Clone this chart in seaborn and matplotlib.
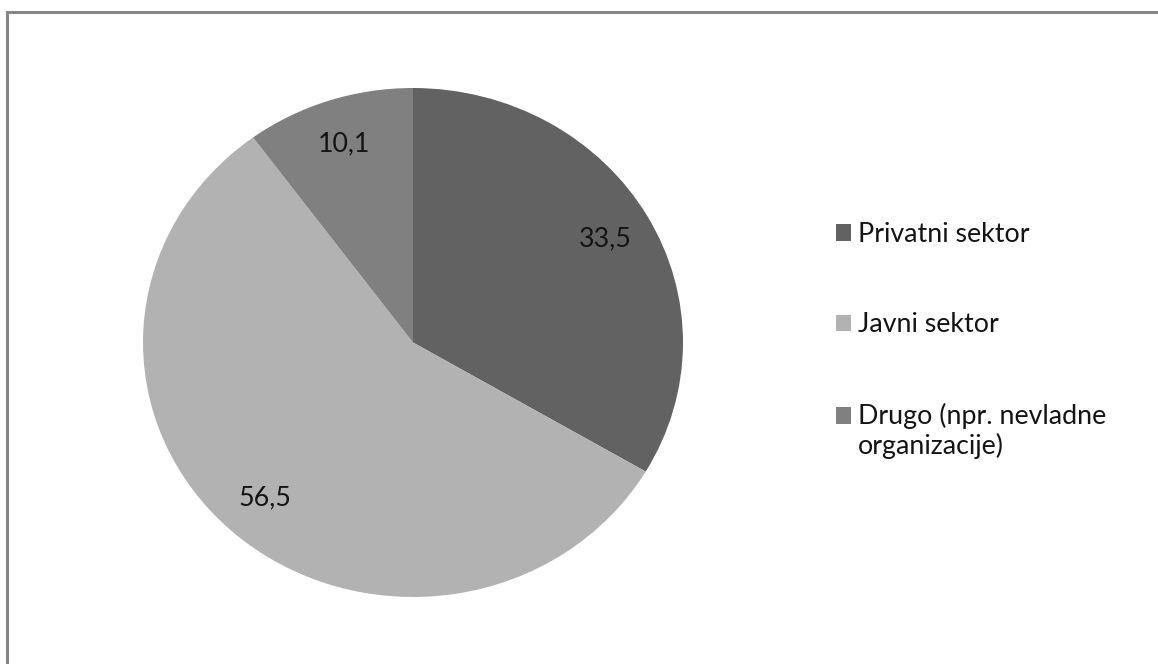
import matplotlib
matplotlib.use("Agg")
import matplotlib.pyplot as plt
import matplotlib.patches as mpatches
from matplotlib.legend_handler import HandlerPatch
import seaborn as sns

categories = ["Privatni sektor", "Javni sektor", "Drugo (npr. nevladne\norganizacije)"]
values = [33.5, 56.5, 10.1]
value_labels = ["33,5", "56,5", "10,1"]
colors = ["#626262", "#b2b2b2", "#808080"]

sns.set_theme(style="white")
plt.rcParams['font.family'] = ['Lato', 'DejaVu Sans']

FS = 19.3
W, H = 1158, 664
fig = plt.figure(figsize=(W / 100, H / 100), dpi=100)
fig.patch.set_facecolor("white")

# pie axes (slightly elliptical as in reference)
left, right, top, bottom = 143, 683, 88, 597
ax = fig.add_axes([left / W, (H - bottom) / H, (right - left) / W, (bottom - top) / H])
wedges, texts = ax.pie(values, colors=colors, startangle=90, counterclock=False,
                       labels=value_labels, labeldistance=0.82,
                       wedgeprops=dict(linewidth=0),
                       textprops=dict(fontsize=FS, color="#141414"))
for t in texts:
    t.set_ha("center")
    t.set_va("center")
ax.set_aspect("auto")
ax.set_xlim(-1, 1)
ax.set_ylim(-1, 1)
ax.axis("off")


def top_aligned_patch(legend, orig_handle, xdescent, ydescent, width, height, fontsize):
    shift = 0.6 * fontsize
    return mpatches.Rectangle((-xdescent, -ydescent + shift), width, height)


handles = [mpatches.Patch(facecolor=c, edgecolor="none") for c in colors]
fig.legend(handles, categories, loc="upper left",
           bbox_to_anchor=(836 / W, 1 - 222 / H), frameon=False,
           fontsize=FS, handlelength=0.56, handleheight=0.56,
           handletextpad=0.26, labelspacing=2.44, borderaxespad=0, borderpad=0,
           labelcolor="#141414",
           handler_map={handles[2]: HandlerPatch(patch_func=top_aligned_patch)})

# outer chart border (extends beyond right/bottom edges)
border = mpatches.Rectangle((7.5 / W, -0.1), 1.2, (H - 12) / H + 0.1,
                            transform=fig.transFigure, fill=False,
                            edgecolor="#868686", linewidth=2.2)
fig.add_artist(border)

fig.savefig("out.png", dpi=100, facecolor="white")
